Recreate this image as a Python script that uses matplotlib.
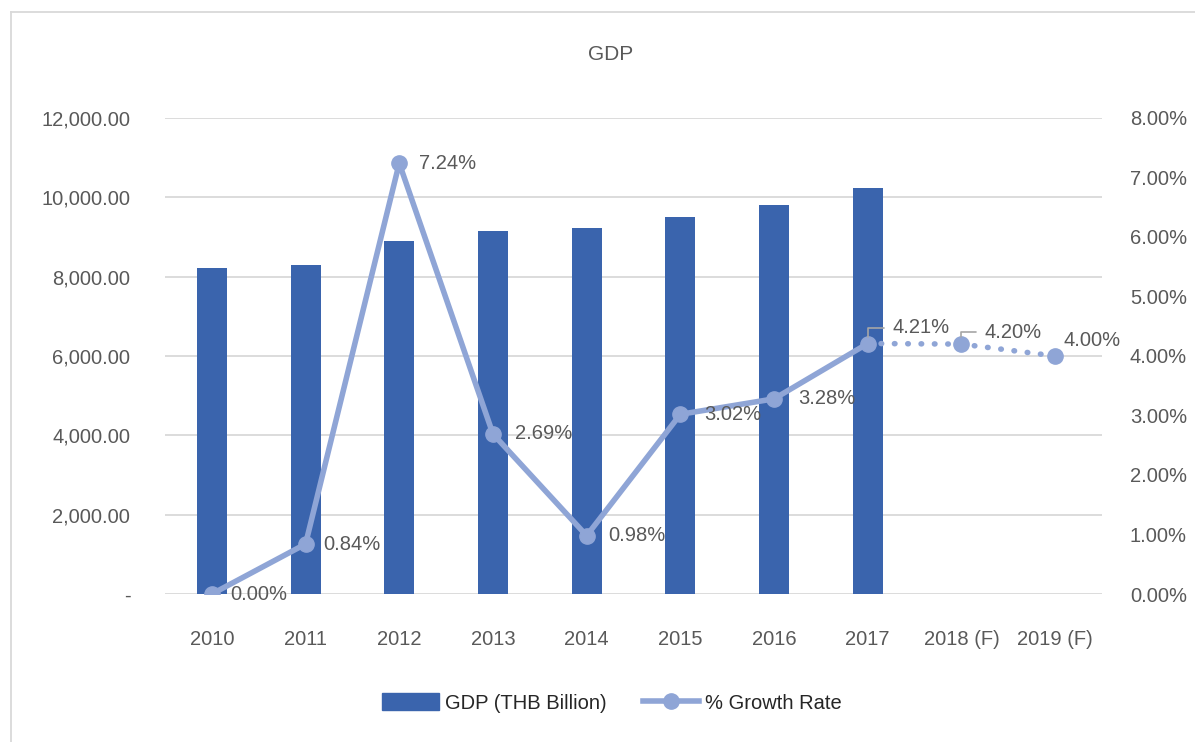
import matplotlib
matplotlib.use("Agg")
import matplotlib.pyplot as plt
from matplotlib.lines import Line2D
from matplotlib.ticker import FuncFormatter, FixedLocator

plt.rcParams['font.family'] = ['Liberation Sans', 'DejaVu Sans']

categories = ["2010", "2011", "2012", "2013", "2014", "2015", "2016", "2017", "2018 (F)", "2019 (F)"]
gdp = [8230, 8300, 8900, 9140, 9230, 9510, 9810, 10240, None, None]
growth = [0.00, 0.84, 7.24, 2.69, 0.98, 3.02, 3.28, 4.21, 4.20, 4.00]
growth_labels = ["0.00%", "0.84%", "7.24%", "2.69%", "0.98%", "3.02%", "3.28%", "4.21%", "4.20%", "4.00%"]
left_ticks = [0, 2000, 4000, 6000, 8000, 10000, 12000]
right_ticks = [0, 1, 2, 3, 4, 5, 6, 7, 8]

bar_color = "#3A64AD"
line_color = "#8FA5D6"
text_color = "#595959"
grid_color = "#D9D9D9"
FS = 14.5

fig = plt.figure(figsize=(11.95, 7.42), dpi=100)
ax = fig.add_axes([165/1195, 148/742, (1102-165)/1195, (594-118)/742])
ax2 = ax.twinx()

x = list(range(len(categories)))
bx = [i for i, v in enumerate(gdp) if v is not None]
bv = [v for v in gdp if v is not None]
ax.bar(bx, bv, width=0.32, color=bar_color, zorder=2)
ax.set_xlim(-0.5, len(categories) - 0.5)
ax.set_ylim(0, 12000)
ax.yaxis.set_major_locator(FixedLocator(left_ticks))
ax.yaxis.set_major_formatter(FuncFormatter(lambda v, p: "-" if v == 0 else f"{v:,.2f}"))
ax.set_xticks(x)
ax.set_xticklabels(categories)
ax.grid(axis='y', color=grid_color, linewidth=1.3, zorder=0)
ax.set_axisbelow(True)
for s in ax.spines.values():
    s.set_visible(False)
for s in ax2.spines.values():
    s.set_visible(False)
ax.tick_params(axis='both', length=0, labelsize=FS, labelcolor=text_color)
ax.tick_params(axis='x', pad=26)
ax.tick_params(axis='y', pad=25)

ax2.set_ylim(0, 8)
ax2.yaxis.set_major_locator(FixedLocator(right_ticks))
ax2.yaxis.set_major_formatter(FuncFormatter(lambda v, p: f"{v:.2f}%"))
ax2.tick_params(axis='y', length=0, labelsize=FS, labelcolor=text_color, pad=20)
ax2.plot(x[:8], growth[:8], color=line_color, linewidth=4, marker='o', markersize=11,
         solid_joinstyle='round', solid_capstyle='round', zorder=3)
ax2.plot(x[7:], growth[7:], color=line_color, linewidth=4, linestyle=(0, (0.1, 2.3)),
         dash_capstyle='round', zorder=3)
ax2.plot(x[8:], growth[8:], color=line_color, linestyle='none', marker='o', markersize=11, zorder=3)

offsets = [(18, 0), (18, 0), (20, 0), (22, 0), (22, 0), (24, 0), (24, 0), (25, 16), (23, 12), (8, 15)]
for i, (g, lab) in enumerate(zip(growth, growth_labels)):
    dx, dy = offsets[i]
    ax2.annotate(lab, (i, g), xytext=(dx, dy), textcoords='offset pixels',
                 ha='left', va='center', fontsize=FS, color=text_color, zorder=4)

# leader lines for 4.21% and 4.20%
for i, (dx, dy) in [(7, (16, 16)), (8, (15, 12))]:
    ax2.annotate("", (i, growth[i]), xytext=(dx, dy), textcoords='offset pixels',
                 arrowprops=dict(arrowstyle='-', color='#A6A6A6', lw=1.2,
                                 connectionstyle='angle,angleA=0,angleB=90,rad=0',
                                 shrinkA=0, shrinkB=5))

fig.text(611/1195, 1 - 55/742, "GDP", ha='center', va='center', fontsize=15, color=text_color)

handles = [plt.Rectangle((0, 0), 1, 1, color=bar_color),
           Line2D([0], [0], color=line_color, linewidth=4, marker='o', markersize=11)]
fig.legend(handles, ["GDP (THB Billion)", "% Growth Rate"], loc='center',
           bbox_to_anchor=(612/1195, 1 - 703/742), ncol=2, frameon=False, fontsize=FS,
           handlelength=2.8, handleheight=0.9, columnspacing=1.8, handletextpad=0.3,
           labelcolor='#262626')

fig.add_artist(Line2D([11/1195, 1], [1 - 12/742, 1 - 12/742], color=grid_color, linewidth=1.3,
                      transform=fig.transFigure))
fig.add_artist(Line2D([11/1195, 11/1195], [0, 1 - 12/742], color=grid_color, linewidth=1.3,
                      transform=fig.transFigure))

fig.savefig("out.png", dpi=100)
